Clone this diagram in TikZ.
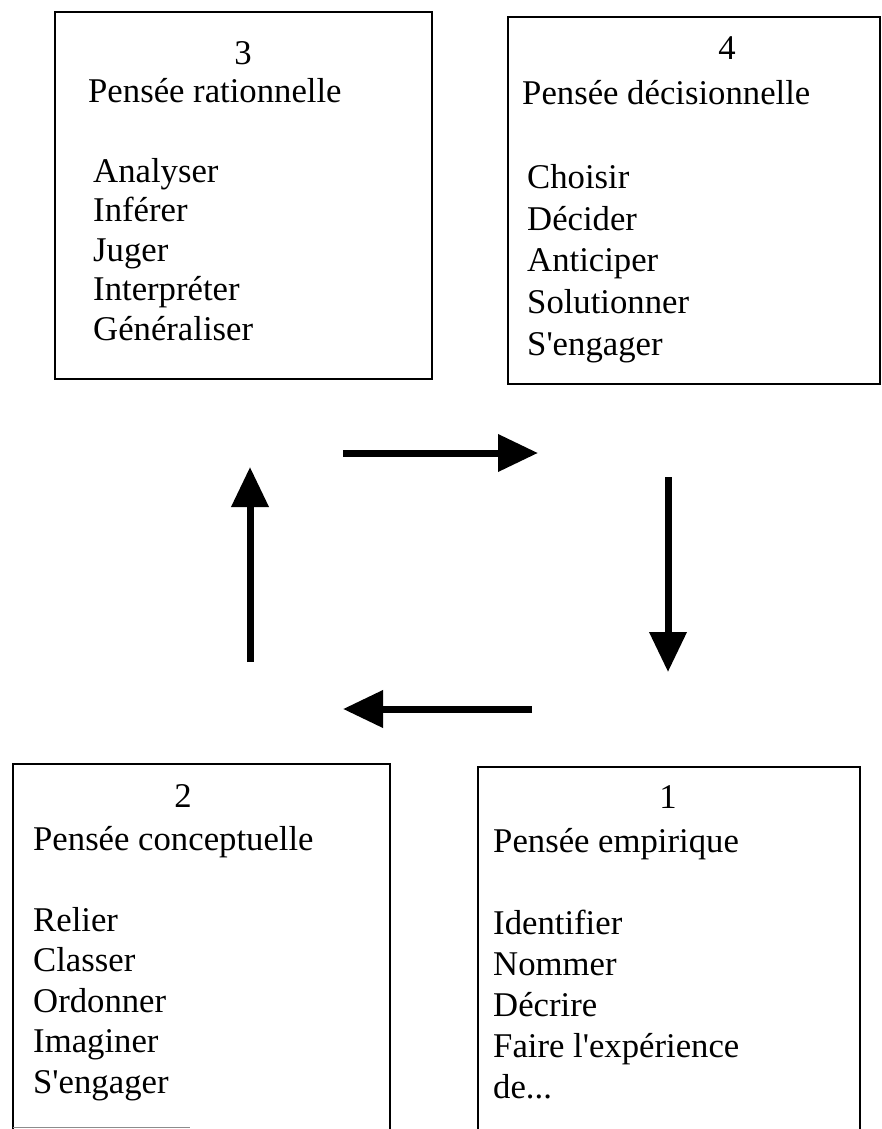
\documentclass[tikz,border=0pt]{standalone}
\usepackage{fontspec}
\setmainfont{Liberation Serif}
\usetikzlibrary{arrows.meta}
\begin{document}
\begin{tikzpicture}[x=1pt,y=-1pt,
  txt/.style={inner sep=0pt,anchor=base west,font=\fontsize{34.7pt}{41pt}\selectfont},
  num/.style={inner sep=0pt,anchor=base,font=\fontsize{34.7pt}{41pt}\selectfont},
  frame/.style={line width=2.7pt,line join=miter},
  flow/.style={line width=7pt,-{Triangle[length=40pt,width=36pt]}}]
\useasboundingbox (0,0) rectangle (882,1129);
% Box 3
\draw[frame] (55,12) rectangle (432,379);
\node[num] (n3) at (243,65) {3};
\node[txt] (t3) at (88,103) {Pensée rationnelle};
\foreach \s [count=\i] in {Analyser,Inférer,Juger,Interpréter,Généraliser}
  \node[txt] (t3-\i) at (93,{103+39.5*(\i+1)}) {\s};
% Box 4
\draw[frame] (508,17) rectangle (880,384);
\node[num] (n4) at (727,60) {4};
\node[txt] (t4) at (522,105) {Pensée décisionnelle};
\foreach \s [count=\i] in {Choisir,Décider,Anticiper,Solutionner,S\textquotesingle engager}
  \node[txt] (t4-\i) at (527,{105+41.7*(\i+1)}) {\s};
% Box 2
\draw[frame] (13,1129) -- (13,764) -- (390,764) -- (390,1129);
\draw[line width=1pt,black!45] (13,1127) -- (190,1127);
\node[num] (n2) at (183,807) {2};
\node[txt] (t2) at (33,850) {Pensée conceptuelle};
\foreach \s [count=\i] in {Relier,Classer,Ordonner,Imaginer,S\textquotesingle engager}
  \node[txt] (t2-\i) at (33,{850+40.5*(\i+1)}) {\s};
% Box 1
\draw[frame] (478,1129) -- (478,767) -- (860,767) -- (860,1129);
\node[num] (n1) at (668,808) {1};
\node[txt] (t1) at (493,852) {Pensée empirique};
\node[txt] (t1-1) at (493,934) {Identifier};
\node[txt] (t1-2) at (493,975) {Nommer};
\node[txt] (t1-3) at (493,1016) {Décrire};
\node[txt] (t1-4) at (493,1057) {Faire l\textquotesingle expérience};
\node[txt] (t1-5) at (493,1098) {de...};
% arrows
\coordinate (a1s) at (343,453); \coordinate (a1e) at (538,453);
\coordinate (a2s) at (668,477); \coordinate (a2e) at (668,672);
\coordinate (a3s) at (532,709); \coordinate (a3e) at (343,709);
\coordinate (a4s) at (250,662); \coordinate (a4e) at (250,467);
\draw[flow] (a1s) -- (a1e);
\draw[flow] (a2s) -- (a2e);
\draw[flow] (a3s) -- (a3e);
\draw[flow] (a4s) -- (a4e);
\end{tikzpicture}
\end{document}
